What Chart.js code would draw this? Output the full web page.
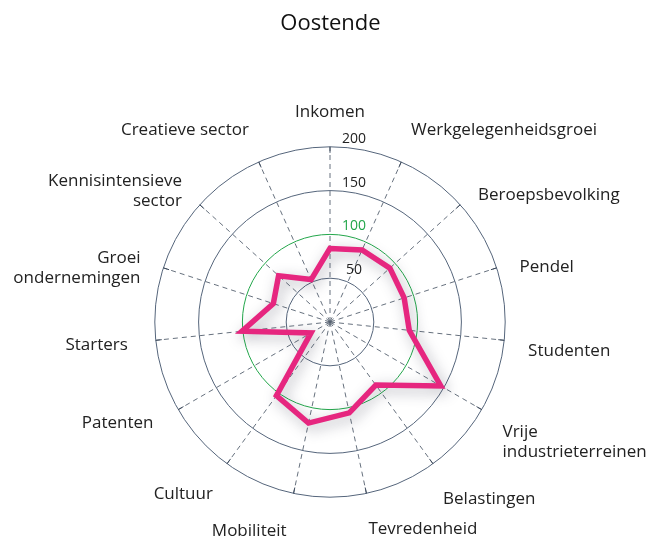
<!DOCTYPE html>
<html>
<head>
<meta charset="utf-8">
<script src="https://cdn.jsdelivr.net/npm/chart.js@4"></script>
<style>
  body { margin: 0; background: #fff; }
  canvas { display: block; }
</style>
</head>
<body>
<canvas id="radarChart" width="651" height="540"></canvas>
<script>
// Oostende radar (index, 100 = reference)

const categories = [
    'Inkomen',
    'Werkgelegenheidsgroei',
    'Beroepsbevolking',
    'Pendel',
    'Studenten',
    ['Vrije', 'industrieterreinen'],
    'Belastingen',
    'Tevredenheid',
    'Mobiliteit',
    'Cultuur',
    'Patenten',
    'Starters',
    ['Groei', 'ondernemingen'],
    ['Kennisintensieve', 'sector'],
    'Creatieve sector'
];
const oostendeValues = [84, 90, 92, 89, 91, 146, 89, 106, 118, 104, 25, 101, 68, 79, 53];
const tickValues = [50, 100, 150, 200];

// nudge of each point label (the original centres the side labels more)
const labelShiftY = [0, 0, 17, 17, -2, 0, 6, 2, 4, 1, -9, -8, 28, 23, 0];
const labelShiftX = [0, 0, 0, 0, 0, 0, -4, -3, -2, 0, -4, -4, 0, 0, 0];

const FONT = '"Open Sans", "Noto Sans", sans-serif';
const GREEN = '#22a64a';

// soft shadow under the data line
const lineShadow = {
    id: 'lineShadow',
    beforeDatasetDraw(chart) {
        const ctx = chart.ctx;
        ctx.save();
        ctx.shadowColor = 'rgba(60, 60, 80, 0.4)';
        ctx.shadowBlur = 14;
        ctx.shadowOffsetX = 3;
        ctx.shadowOffsetY = 4;
    },
    afterDatasetDraw(chart) {
        chart.ctx.restore();
    }
};

// move the point labels after the scale has placed them
const labelNudge = {
    id: 'labelNudge',
    afterLayout(chart) {
        const items = chart.scales.r._pointLabelItems || [];
        items.forEach((item, i) => {
            const dy = labelShiftY[i] || 0;
            const dx = labelShiftX[i] || 0;
            item.y += dy;
            item.top += dy;
            item.bottom += dy;
            item.x += dx;
            item.left += dx;
            item.right += dx;
        });
    }
};

// tick values sit just right of the top spoke, and small solid marks at the rim
const scaleExtras = {
    id: 'scaleExtras',
    beforeDatasetsDraw(chart) {
        const r = chart.scales.r;
        const ctx = chart.ctx;
        ctx.save();
        ctx.strokeStyle = '#3d4a5c';
        ctx.lineWidth = 1;
        for (let i = 0; i < categories.length; i++) {
            const a = r.getPointPosition(i, r.drawingArea - 6);
            const b = r.getPointPosition(i, r.drawingArea);
            ctx.beginPath();
            ctx.moveTo(a.x, a.y);
            ctx.lineTo(b.x, b.y);
            ctx.stroke();
        }
        ctx.font = '14px ' + FONT;
        ctx.textAlign = 'center';
        ctx.textBaseline = 'middle';
        tickValues.forEach(v => {
            const d = r.getDistanceFromCenterForValue(v);
            ctx.fillStyle = v === 100 ? GREEN : '#222';
            ctx.fillText(String(v), r.xCenter + 24, r.yCenter - d - 8);
        });
        ctx.restore();
    }
};

const ctx = document.getElementById('radarChart');

new Chart(ctx, {
    type: 'radar',
    data: {
        labels: categories,
        datasets: [{
            label: 'Oostende',
            data: oostendeValues,
            borderColor: '#e6267f',
            borderWidth: 5.5,
            borderJoinStyle: 'miter',
            backgroundColor: 'transparent',
            fill: false,
            pointRadius: 0,
            pointHoverRadius: 0
        }]
    },
    options: {
        responsive: false,
        animation: false,
        devicePixelRatio: 1,
        layout: {
            padding: { top: 0, bottom: 0, left: 10, right: 0 }
        },
        plugins: {
            legend: { display: false },
            tooltip: { enabled: false },
            title: {
                display: true,
                text: 'Oostende',
                color: '#111',
                font: { family: FONT, size: 22, weight: 'normal' },
                padding: { top: 11, bottom: 63 }
            }
        },
        scales: {
            r: {
                min: 0,
                max: 200,
                ticks: { stepSize: 50, display: false },
                grid: {
                    circular: true,
                    lineWidth: 1,
                    color: c => c.tick && c.tick.value === 100 ? GREEN : '#55657b'
                },
                angleLines: {
                    color: '#56616f',
                    lineWidth: 0.9,
                    borderDash: [5, 4]
                },
                pointLabels: {
                    color: '#222',
                    padding: 24,
                    font: { family: FONT, size: 17 }
                }
            }
        }
    },
    plugins: [lineShadow, labelNudge, scaleExtras]
});
</script>
</body>
</html>
